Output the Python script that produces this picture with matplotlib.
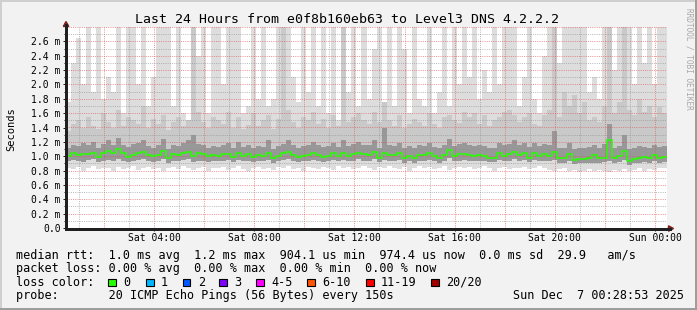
import numpy as np
import matplotlib
matplotlib.use("Agg")
import matplotlib.pyplot as plt
from matplotlib.patches import Rectangle, Polygon
from matplotlib.lines import Line2D

plt.rcParams["font.family"] = "DejaVu Sans Mono"

# smoke data: 120 bins of 12 minutes each, values in ms
median = [
    1.00, 1.04, 1.02, 1.03, 1.03, 1.05, 0.99, 1.04, 1.07, 1.04,
    1.10, 1.04, 0.99, 1.02, 1.04, 1.06, 1.02, 1.00, 1.02, 1.07,
    0.97, 1.03, 1.02, 1.04, 1.06, 1.00, 1.04, 1.03, 1.00, 1.01,
    1.00, 1.03, 1.03, 0.99, 1.04, 1.00, 1.03, 0.99, 1.01, 1.00,
    1.05, 0.97, 1.00, 1.04, 1.06, 1.02, 0.99, 1.00, 1.02, 1.05,
    1.02, 0.99, 1.00, 1.04, 1.00, 1.05, 1.00, 1.03, 1.05, 1.03,
    1.02, 1.06, 0.98, 1.04, 1.02, 1.01, 1.04, 0.97, 1.00, 0.97,
    1.02, 1.01, 1.04, 1.00, 0.97, 1.02, 1.09, 1.00, 1.03, 1.03,
    1.02, 1.00, 1.01, 1.00, 0.98, 0.98, 1.04, 1.00, 1.03, 1.06,
    1.01, 1.04, 0.98, 1.04, 1.00, 1.03, 1.00, 1.06, 0.97, 0.97,
    1.03, 0.95, 0.96, 0.96, 0.98, 1.02, 0.97, 0.98, 1.22, 0.98,
    1.00, 1.07, 0.94, 0.96, 0.98, 0.99, 0.97, 1.01, 0.98, 0.99,
]
lo = [
    0.84, 0.82, 0.85, 0.80, 0.83, 0.86, 0.82, 0.84, 0.83, 0.79,
    0.85, 0.82, 0.84, 0.86, 0.81, 0.83, 0.85, 0.82, 0.84, 0.80,
    0.83, 0.85, 0.82, 0.86, 0.84, 0.81, 0.83, 0.85, 0.80, 0.84,
    0.83, 0.85, 0.81, 0.84, 0.86, 0.82, 0.80, 0.84, 0.85, 0.82,
    0.84, 0.81, 0.85, 0.83, 0.86, 0.82, 0.84, 0.80, 0.85, 0.83,
    0.82, 0.85, 0.84, 0.81, 0.86, 0.83, 0.85, 0.82, 0.84, 0.86,
    0.84, 0.81, 0.85, 0.83, 0.86, 0.84, 0.82, 0.85, 0.80, 0.84,
    0.86, 0.83, 0.85, 0.82, 0.84, 0.86, 0.81, 0.84, 0.85, 0.83,
    0.85, 0.82, 0.84, 0.86, 0.83, 0.80, 0.84, 0.85, 0.82, 0.84,
    0.83, 0.85, 0.82, 0.84, 0.86, 0.83, 0.81, 0.80, 0.82, 0.84,
    0.79, 0.81, 0.78, 0.80, 0.82, 0.79, 0.81, 0.80, 0.78, 0.81,
    0.80, 0.82, 0.79, 0.81, 0.83, 0.80, 0.82, 0.81, 0.83, 0.84,
]
lo_dark = [
    0.93, 0.95, 0.94, 0.92, 0.95, 0.96, 0.92, 0.94, 0.95, 0.93,
    0.96, 0.94, 0.92, 0.94, 0.95, 0.96, 0.93, 0.92, 0.94, 0.96,
    0.91, 0.94, 0.93, 0.95, 0.96, 0.92, 0.94, 0.93, 0.92, 0.93,
    0.93, 0.94, 0.95, 0.92, 0.95, 0.93, 0.94, 0.92, 0.93, 0.93,
    0.95, 0.91, 0.93, 0.95, 0.96, 0.94, 0.92, 0.93, 0.94, 0.95,
    0.94, 0.92, 0.93, 0.95, 0.93, 0.95, 0.93, 0.94, 0.96, 0.94,
    0.94, 0.96, 0.92, 0.95, 0.94, 0.93, 0.95, 0.91, 0.93, 0.91,
    0.94, 0.93, 0.95, 0.93, 0.91, 0.94, 0.97, 0.93, 0.94, 0.95,
    0.94, 0.93, 0.94, 0.93, 0.92, 0.92, 0.95, 0.93, 0.94, 0.96,
    0.94, 0.95, 0.92, 0.95, 0.93, 0.94, 0.93, 0.95, 0.90, 0.91,
    0.94, 0.89, 0.90, 0.90, 0.91, 0.90, 0.91, 0.92, 0.93, 0.91,
    0.92, 0.95, 0.88, 0.90, 0.91, 0.92, 0.90, 0.93, 0.91, 0.92,
]
hi_dark = [
    1.12, 1.16, 1.14, 1.18, 1.15, 1.20, 1.12, 1.17, 1.22, 1.16,
    1.26, 1.15, 1.13, 1.17, 1.18, 1.22, 1.14, 1.12, 1.15, 1.24,
    1.10, 1.16, 1.14, 1.18, 1.22, 1.30, 1.17, 1.15, 1.12, 1.14,
    1.13, 1.16, 1.18, 1.12, 1.20, 1.13, 1.16, 1.12, 1.14, 1.13,
    1.22, 1.10, 1.14, 1.17, 1.22, 1.15, 1.12, 1.14, 1.16, 1.20,
    1.15, 1.13, 1.14, 1.18, 1.13, 1.22, 1.14, 1.17, 1.20, 1.16,
    1.15, 1.22, 1.12, 1.40, 1.16, 1.14, 1.18, 1.12, 1.14, 1.12,
    1.16, 1.14, 1.18, 1.13, 1.12, 1.16, 1.24, 1.14, 1.17, 1.18,
    1.16, 1.14, 1.15, 1.14, 1.12, 1.12, 1.18, 1.15, 1.17, 1.22,
    1.15, 1.18, 1.13, 1.18, 1.14, 1.17, 1.15, 1.35, 1.12, 1.12,
    1.18, 1.10, 1.12, 1.11, 1.13, 1.16, 1.12, 1.17, 1.45, 1.12,
    1.14, 1.30, 1.10, 1.12, 1.14, 1.13, 1.12, 1.16, 1.13, 1.14,
]
hi_mid = [
    1.35, 1.45, 1.50, 1.40, 1.55, 1.42, 1.38, 1.60, 1.48, 1.40,
    1.65, 1.42, 1.55, 1.50, 1.45, 1.70, 1.40, 1.52, 1.45, 1.58,
    1.36, 1.48, 1.55, 1.42, 1.50, 2.90, 1.62, 1.48, 1.40, 1.55,
    1.50, 1.45, 1.62, 1.40, 1.55, 1.38, 1.44, 1.60, 1.42, 1.50,
    1.58, 1.38, 1.52, 2.90, 1.65, 1.48, 1.40, 1.55, 1.50, 1.62,
    1.45, 1.52, 1.40, 1.58, 1.42, 2.90, 1.48, 1.55, 1.60, 1.50,
    1.45, 1.62, 1.48, 1.75, 1.50, 1.42, 1.58, 1.40, 1.45, 1.52,
    1.48, 1.42, 1.60, 1.45, 1.40, 1.55, 1.58, 1.50, 1.46, 1.62,
    1.55, 1.60, 1.45, 1.58, 1.42, 1.50, 1.55, 1.62, 1.65, 1.58,
    1.48, 1.55, 1.60, 1.45, 1.42, 1.58, 1.65, 2.90, 1.55, 1.90,
    1.70, 1.85, 1.60, 1.75, 1.50, 1.55, 1.48, 1.70, 2.90, 1.60,
    1.75, 2.90, 1.65, 1.58, 1.80, 1.62, 1.70, 1.55, 1.68, 1.60,
]
maxv = [
    1.75, 2.30, 2.65, 2.00, 2.90, 1.90, 2.90, 1.80, 2.10, 1.90,
    2.90, 1.60, 2.90, 2.90, 2.00, 2.90, 1.70, 2.10, 2.90, 2.90,
    2.90, 1.70, 2.90, 1.60, 1.50, 2.90, 2.40, 2.90, 1.60, 2.90,
    2.90, 2.00, 2.90, 2.90, 2.90, 1.60, 1.70, 2.90, 1.80, 2.90,
    1.70, 1.80, 2.90, 2.90, 2.90, 2.10, 1.75, 2.90, 1.90, 2.90,
    1.70, 2.90, 1.60, 2.90, 1.50, 2.90, 1.90, 2.90, 1.70, 2.90,
    1.80, 2.50, 2.90, 1.60, 2.90, 1.70, 2.90, 2.50, 1.60, 2.90,
    1.80, 1.70, 2.90, 1.60, 1.90, 2.90, 1.70, 2.90, 2.00, 2.90,
    2.10, 2.90, 1.80, 2.20, 1.90, 2.90, 2.00, 2.90, 2.90, 2.90,
    1.70, 2.10, 2.90, 1.80, 1.60, 2.40, 2.90, 2.90, 2.30, 2.90,
    2.90, 2.90, 2.90, 2.90, 1.90, 2.10, 1.80, 2.90, 2.90, 2.20,
    2.90, 2.90, 2.90, 2.00, 2.90, 2.30, 2.90, 2.00, 2.90, 2.90,
]

title = "Last 24 Hours from e0f8b160eb63 to Level3 DNS 4.2.2.2"
start_clock = 28 / 60 + 53 / 3600  # Sat 00:28:53
xlabel_hours = [4, 8, 12, 16, 20, 24]
xlabels = ["Sat 04:00", "Sat 08:00", "Sat 12:00", "Sat 16:00", "Sat 20:00", "Sun 00:00"]
yticks = [0.0, 0.2, 0.4, 0.6, 0.8, 1.0, 1.2, 1.4, 1.6, 1.8, 2.0, 2.2, 2.4, 2.6]
ylabels = ["0.0"] + ["%.1f m" % v for v in yticks[1:]]

rows = [
    "median rtt:  1.0 ms avg  1.2 ms max  904.1 us min  974.4 us now  0.0 ms sd  29.9   am/s",
    "packet loss: 0.00 % avg  0.00 % max  0.00 % min  0.00 % now",
    "loss color:",
    "probe:       20 ICMP Echo Pings (56 Bytes) every 150s",
]
stamp = "Sun Dec  7 00:28:53 2025"
loss_labels = ["0", "1", "2", "3", "4-5", "6-10", "11-19", "20/20"]
loss_colors = ["#26ff00", "#00b8ff", "#0059ff", "#7e00ff", "#ff00ff", "#ff5500", "#ff0000", "#a10000"]
loss_box_x = [108.3, 146, 182.7, 219.3, 256, 307.3, 366, 431]

W, H = 697, 310
fig = plt.figure(figsize=(W / 100, H / 100), dpi=100, facecolor="#f2f2f2")


def fx(x):
    return x / W


def fy(y):
    return 1 - y / H


ax = fig.add_axes([fx(66), fy(228), 601 / W, 201 / H])
ax.set_facecolor("white")
ax.set_xlim(0, 24)
ax.set_ylim(0, 2.8)
for s in ax.spines.values():
    s.set_visible(False)

edges = np.linspace(0, 24, len(median) + 1)
ax.stairs(maxv, edges, baseline=lo, fill=True, color="#dddddd", lw=0, zorder=1)
ax.stairs(hi_mid, edges, baseline=lo_dark, fill=True, color="#c9c9c9", lw=0, zorder=1.1)
ax.stairs(hi_dark, edges, baseline=lo_dark, fill=True, color="#989898", lw=0, zorder=1.2)

minor_c = (0.56, 0.56, 0.56, 0.6)
major_c = (0.87, 0.31, 0.31, 0.6)
for h in range(1, 25):
    x = h - start_clock
    if 0 < x < 24:
        ax.axvline(x, color=major_c if h % 2 == 0 else minor_c, lw=0.72,
                   ls=(0, (1, 1.2)), zorder=2)
for i in range(1, 29):
    ax.axhline(i * 0.1, color=major_c if i % 2 == 0 else minor_c, lw=0.72,
               ls=(0, (1, 1.2)), zorder=2)

ax.stairs(median, edges, baseline=None, color="#26ff00", lw=1.1, zorder=4)

ax.set_yticks(yticks, ylabels)
ax.set_yticks(np.arange(1, 28, 2) * 0.1, minor=True)
ax.set_xticks([h - start_clock for h in xlabel_hours], xlabels)
ax.set_xticks([h - start_clock for h in range(1, 25)], minor=True)
ax.tick_params(which="major", length=2.2, width=0.72, color="#1f1f1f",
               labelsize=7, pad=1.6, direction="out")
ax.tick_params(which="minor", length=1.2, width=0.72, color="#1f1f1f", direction="out")

axis_c = "#1f1f1f"
fig.add_artist(Line2D([fx(66), fx(66)], [fy(228.5), fy(25)], color=axis_c, lw=0.8, antialiased=False))
fig.add_artist(Line2D([fx(65.5), fx(670)], [fy(228.5), fy(228.5)], color=axis_c, lw=0.8, antialiased=False))
arrow_c = (0.5, 0.12, 0.12)
fig.add_artist(Polygon([(fx(63.3), fy(26.5)), (fx(68.8), fy(26.5)), (fx(66), fy(21.5))],
                       closed=True, color=arrow_c, transform=fig.transFigure))
fig.add_artist(Polygon([(fx(668.5), fy(225.8)), (fx(668.5), fy(231.2)), (fx(673.5), fy(228.5))],
                       closed=True, color=arrow_c, transform=fig.transFigure))

fig.text(fx(347), fy(23.3), title, ha="center", va="baseline", fontsize=9.5)
fig.text(fx(11), fy(129), "Seconds", rotation=90, ha="center", va="center", fontsize=7.5)
fig.text(fx(689), fy(59), "RRDTOOL / TOBI OETIKER", rotation=270, ha="center", va="center",
         fontsize=5.6, color="#a8a8a8")

baselines = [258.5, 272.0, 285.7, 299.4]
for txt, yb in zip(rows, baselines):
    fig.text(fx(16), fy(yb), txt, ha="left", va="baseline", fontsize=8.5)
fig.text(fx(684), fy(baselines[3]), stamp, ha="right", va="baseline", fontsize=8.5)

for bx, lab, col in zip(loss_box_x, loss_labels, loss_colors):
    fig.add_artist(Rectangle((fx(bx), fy(286.2)), 7.7 / W, 7.7 / H, facecolor=col,
                             edgecolor="black", lw=0.8, transform=fig.transFigure))
    fig.text(fx(bx + 15), fy(baselines[2]), lab, ha="left", va="baseline", fontsize=8.5)

# frame shading
fig.add_artist(Rectangle((0, fy(2)), 1, 2 / H, color="#cfcfcf", lw=0, transform=fig.transFigure))
fig.add_artist(Rectangle((0, 0), 2 / W, 1, color="#cfcfcf", lw=0, transform=fig.transFigure))
fig.add_artist(Rectangle((0, 0), 1, 2 / H, color="#9e9e9e", lw=0, transform=fig.transFigure))
fig.add_artist(Rectangle((fx(695), 0), 2 / W, 1, color="#9e9e9e", lw=0, transform=fig.transFigure))

fig.savefig("out.png", dpi=100, facecolor=fig.get_facecolor())
